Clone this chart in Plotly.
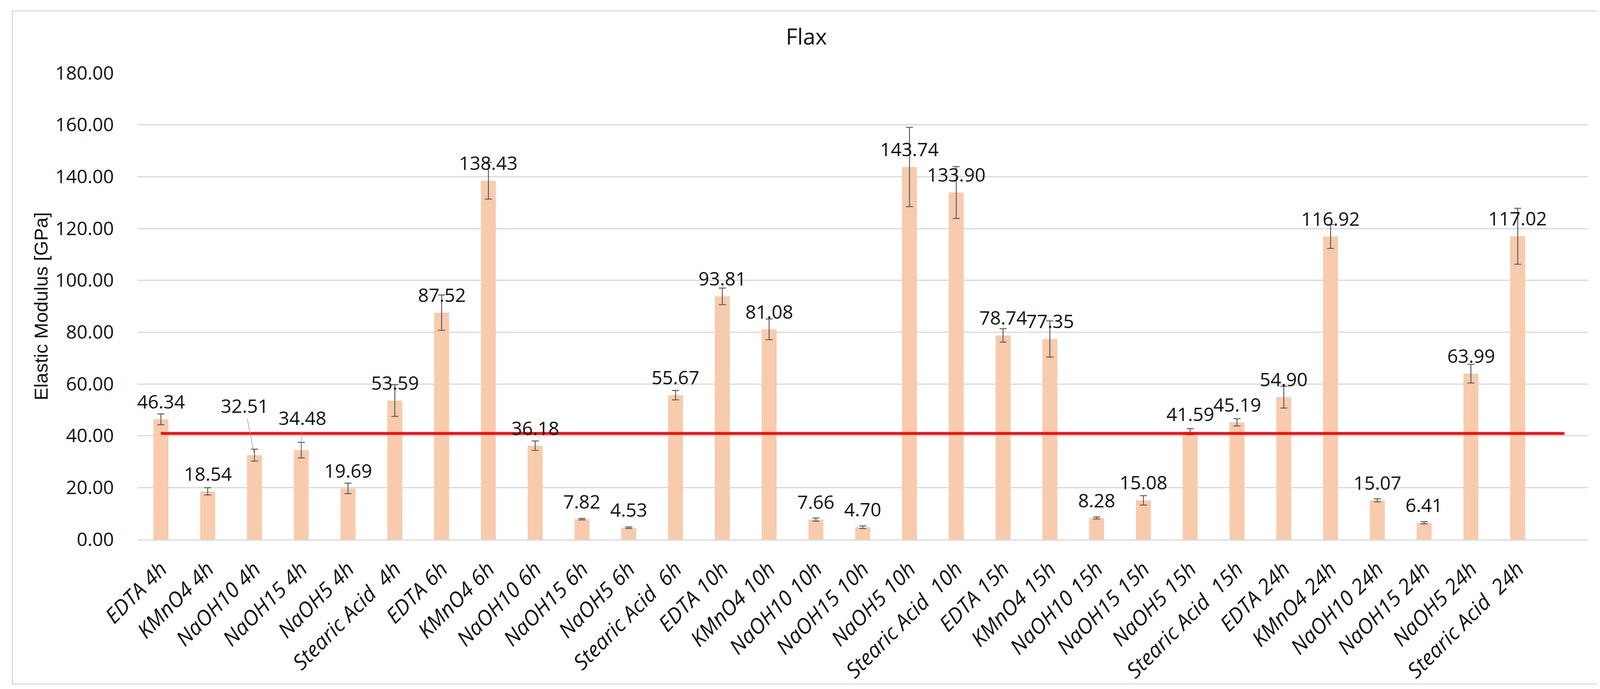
import plotly.graph_objects as go

CATEGORIES = [
    "EDTA 4h", "KMnO4 4h", "NaOH10 4h", "NaOH15 4h", "NaOH5 4h", "Stearic Acid\u00a0 4h",
    "EDTA 6h", "KMnO4 6h", "NaOH10 6h", "NaOH15 6h", "NaOH5 6h", "Stearic Acid\u00a0 6h",
    "EDTA 10h", "KMnO4 10h", "NaOH10 10h", "NaOH15 10h", "NaOH5 10h", "Stearic Acid\u00a0 10h",
    "EDTA 15h", "KMnO4 15h", "NaOH10 15h", "NaOH15 15h", "NaOH5 15h", "Stearic Acid\u00a0 15h",
    "EDTA 24h", "KMnO4 24h", "NaOH10 24h", "NaOH15 24h", "NaOH5 24h", "Stearic Acid\u00a0 24h",
]
MODULUS = [
    46.34, 18.54, 32.51, 34.48, 19.69, 53.59,
    87.52, 138.43, 36.18, 7.82, 4.53, 55.67,
    93.81, 81.08, 7.66, 4.70, 143.74, 133.90,
    78.74, 77.35, 8.28, 15.08, 41.59, 45.19,
    54.90, 116.92, 15.07, 6.41, 63.99, 117.02,
]
ERRORS = [
    2.1, 1.4, 2.3, 3.0, 2.0, 6.1,
    6.8, 7.1, 1.8, 0.3, 0.3, 1.8,
    3.2, 4.0, 0.6, 0.5, 15.3, 10.0,
    2.6, 7.0, 0.4, 1.8, 1.2, 1.4,
    4.2, 4.6, 0.6, 0.4, 3.6, 10.8,
]
REFERENCE_VALUE = 40.9
Y_TICKS = [0, 20, 40, 60, 80, 100, 120, 140, 160, 180]
# labels that were dragged away from their bar, with a leader line (pixel offsets)
MOVED_LABELS = {2: (-25, -127), 3: (3, -83)}

FONT = "Open Sans, Lato, Carlito, Calibri, sans-serif"
x_idx = list(range(len(CATEGORIES)))
ref_x = list(range(len(CATEGORIES) + 1))

fig = go.Figure()
fig.add_trace(go.Bar(
    x=x_idx, y=MODULUS, width=0.32,
    marker=dict(color="#F8CBAD", line=dict(width=0)),
    error_y=dict(type="data", array=ERRORS, visible=True,
                 color="#5f5f5f", thickness=2.5, width=9),
    showlegend=False,
))
fig.add_trace(go.Scatter(
    x=ref_x, y=[REFERENCE_VALUE] * len(ref_x), mode="lines",
    line=dict(color="#FF0000", width=7), showlegend=False,
))

annotations = []
for i, v in enumerate(MODULUS):
    txt = f"{v:.2f}"
    if i in MOVED_LABELS:
        ax, ay = MOVED_LABELS[i]
        annotations.append(dict(
            x=i, y=v, xref="x", yref="y", text=txt, showarrow=True,
            arrowhead=0, arrowwidth=1.5, arrowcolor="#9a9a9a", ax=ax, ay=ay,
            font=dict(family=FONT, size=48, color="#111111"),
        ))
    else:
        annotations.append(dict(
            x=i, y=v, xref="x", yref="y", text=txt, showarrow=False,
            yanchor="middle", xanchor="center", yshift=46,
            font=dict(family=FONT, size=48, color="#111111"),
        ))

annotations.append(dict(
    x=-0.0665, y=0.5, xref="paper", yref="paper", text="Elastic Modulus [GPa]",
    textangle=-90, showarrow=False, xanchor="center", yanchor="middle",
    font=dict(family="Liberation Sans, Arial, sans-serif", size=49, color="#111111"),
))

fig.update_layout(
    width=4113, height=1764,
    margin=dict(l=344, r=56, t=179, b=391),
    paper_bgcolor="white", plot_bgcolor="white",
    title=dict(text="Flax", x=0.5, xref="container", xanchor="center",
               y=1 - 86 / 1764, yref="container", yanchor="middle",
               font=dict(family=FONT, size=57, color="#111111")),
    annotations=annotations,
    shapes=[dict(type="rect", xref="paper", yref="paper",
                 x0=(24 - 344) / 3713, x1=(4087 - 344) / 3713,
                 y0=(1373 - 1743) / 1194, y1=(1373 - 20) / 1194,
                 line=dict(color="#D9D9D9", width=3), layer="below")],
)
fig.update_xaxes(
    range=[-0.5, len(CATEGORIES) + 0.5], tickmode="array",
    tickvals=x_idx, ticktext=CATEGORIES, tickangle=-45,
    tickfont=dict(family=FONT, size=54, color="#111111", style="italic"),
    showgrid=False, zeroline=False, showline=True, linecolor="#D9D9D9", linewidth=3,
    ticks="outside", ticklen=20, tickcolor="rgba(0,0,0,0)",
)
fig.update_yaxes(
    range=[0, 180], tickmode="array", tickvals=Y_TICKS,
    ticktext=[f"{t:.2f}" for t in Y_TICKS],
    tickfont=dict(family=FONT, size=48, color="#111111"),
    showgrid=True, gridcolor="#D9D9D9", gridwidth=3, zeroline=False, showline=False,
    ticks="outside", ticklen=50, tickcolor="rgba(0,0,0,0)",
)

fig.write_html("out.html")
